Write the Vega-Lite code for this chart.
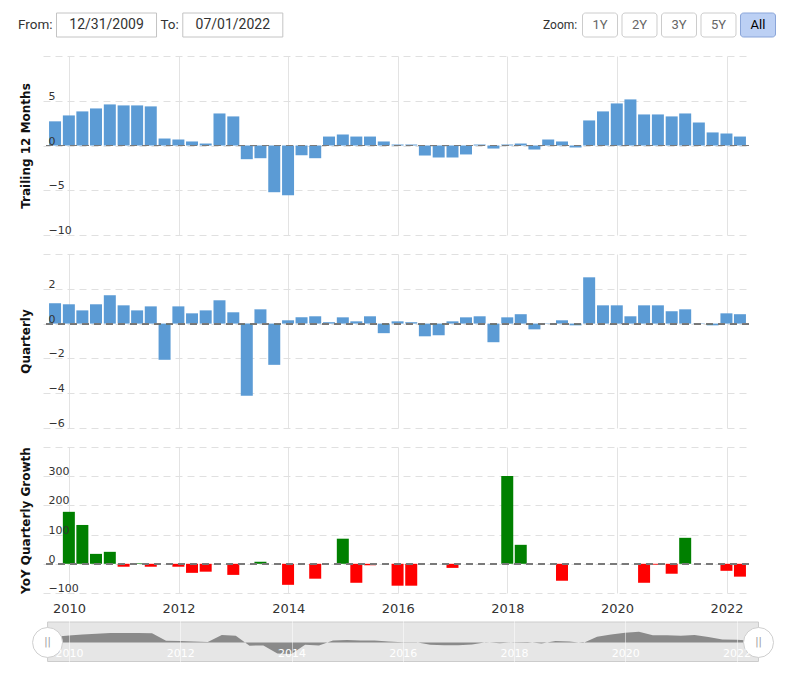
{
  "$schema": "https://vega.github.io/schema/vega-lite/v6.json",
  "usermeta": {"embedOptions": {"actions": false}},
  "background": "white",
  "padding": {"left": 17, "top": 12, "right": 10, "bottom": 4},
  "config": {
    "view": {"stroke": null},
    "font": "DejaVu Sans",
    "axis": {"labelFlush": false, "labelOverlap": false, "labelFont": "DejaVu Sans", "titleFont": "DejaVu Sans"}
  },
  "datasets": {
    "q": [
      {"date": "2009-09-30", "ttm": 2.7, "qtr": 1.17, "yoy": null},
      {"date": "2009-12-31", "ttm": 3.36, "qtr": 1.11, "yoy": 178},
      {"date": "2010-03-31", "ttm": 3.81, "qtr": 0.76, "yoy": 133},
      {"date": "2010-06-30", "ttm": 4.14, "qtr": 1.11, "yoy": 34},
      {"date": "2010-09-30", "ttm": 4.59, "qtr": 1.63, "yoy": 41},
      {"date": "2010-12-31", "ttm": 4.48, "qtr": 1.05, "yoy": -10},
      {"date": "2011-03-31", "ttm": 4.48, "qtr": 0.76, "yoy": 2},
      {"date": "2011-06-30", "ttm": 4.37, "qtr": 0.99, "yoy": -10},
      {"date": "2011-09-30", "ttm": 0.78, "qtr": -2.08, "yoy": null},
      {"date": "2011-12-31", "ttm": 0.67, "qtr": 0.99, "yoy": -10},
      {"date": "2012-03-31", "ttm": 0.45, "qtr": 0.59, "yoy": -31},
      {"date": "2012-06-30", "ttm": 0.22, "qtr": 0.76, "yoy": -27},
      {"date": "2012-09-30", "ttm": 3.58, "qtr": 1.34, "yoy": null},
      {"date": "2012-12-31", "ttm": 3.25, "qtr": 0.65, "yoy": -38},
      {"date": "2013-03-31", "ttm": -1.53, "qtr": -4.15, "yoy": null},
      {"date": "2013-06-30", "ttm": -1.42, "qtr": 0.82, "yoy": 7},
      {"date": "2013-09-30", "ttm": -5.22, "qtr": -2.37, "yoy": null},
      {"date": "2013-12-31", "ttm": -5.56, "qtr": 0.19, "yoy": -72},
      {"date": "2014-03-31", "ttm": -1.08, "qtr": 0.36, "yoy": null},
      {"date": "2014-06-30", "ttm": -1.42, "qtr": 0.42, "yoy": -51},
      {"date": "2014-09-30", "ttm": 1.0, "qtr": 0.08, "yoy": null},
      {"date": "2014-12-31", "ttm": 1.23, "qtr": 0.36, "yoy": 86},
      {"date": "2015-03-31", "ttm": 1.0, "qtr": 0.13, "yoy": -65},
      {"date": "2015-06-30", "ttm": 1.0, "qtr": 0.42, "yoy": -5},
      {"date": "2015-09-30", "ttm": 0.45, "qtr": -0.55, "yoy": null},
      {"date": "2015-12-31", "ttm": 0.11, "qtr": 0.13, "yoy": -75},
      {"date": "2016-03-31", "ttm": 0.11, "qtr": 0.08, "yoy": -75},
      {"date": "2016-06-30", "ttm": -1.12, "qtr": -0.73, "yoy": null},
      {"date": "2016-09-30", "ttm": -1.34, "qtr": -0.67, "yoy": null},
      {"date": "2016-12-31", "ttm": -1.34, "qtr": 0.13, "yoy": -14},
      {"date": "2017-03-31", "ttm": -1.0, "qtr": 0.36, "yoy": null},
      {"date": "2017-06-30", "ttm": 0.11, "qtr": 0.42, "yoy": null},
      {"date": "2017-09-30", "ttm": -0.34, "qtr": -1.07, "yoy": null},
      {"date": "2017-12-31", "ttm": 0.11, "qtr": 0.36, "yoy": 301},
      {"date": "2018-03-31", "ttm": 0.22, "qtr": 0.54, "yoy": 65},
      {"date": "2018-06-30", "ttm": -0.45, "qtr": -0.33, "yoy": null},
      {"date": "2018-09-30", "ttm": 0.67, "qtr": -0.02, "yoy": null},
      {"date": "2018-12-31", "ttm": 0.45, "qtr": 0.19, "yoy": -58},
      {"date": "2019-03-31", "ttm": -0.22, "qtr": -0.1, "yoy": null},
      {"date": "2019-06-30", "ttm": 2.8, "qtr": 2.66, "yoy": null},
      {"date": "2019-09-30", "ttm": 3.81, "qtr": 1.05, "yoy": null},
      {"date": "2019-12-31", "ttm": 4.7, "qtr": 1.05, "yoy": null},
      {"date": "2020-03-31", "ttm": 5.15, "qtr": 0.42, "yoy": null},
      {"date": "2020-06-30", "ttm": 3.47, "qtr": 1.05, "yoy": -65},
      {"date": "2020-09-30", "ttm": 3.47, "qtr": 1.05, "yoy": -3},
      {"date": "2020-12-31", "ttm": 3.25, "qtr": 0.71, "yoy": -34},
      {"date": "2021-03-31", "ttm": 3.58, "qtr": 0.82, "yoy": 89},
      {"date": "2021-06-30", "ttm": 2.57, "qtr": 0.02, "yoy": null},
      {"date": "2021-09-30", "ttm": 1.46, "qtr": -0.1, "yoy": null},
      {"date": "2021-12-31", "ttm": 1.34, "qtr": 0.59, "yoy": -24},
      {"date": "2022-03-31", "ttm": 1.0, "qtr": 0.54, "yoy": -44}
    ],
    "handles": [{"date": "2009-08-13"}, {"date": "2022-05-25"}],
    "inputs": [{"lbl": "From:", "val": "12/31/2009"}, {"lbl": "To:", "val": "07/01/2022"}],
    "buttons": [
      {"btn": "Zoom:", "kind": "label"},
      {"btn": "1Y", "kind": "button"},
      {"btn": "2Y", "kind": "button"},
      {"btn": "3Y", "kind": "button"},
      {"btn": "5Y", "kind": "button"},
      {"btn": "All", "kind": "selected"}
    ]
  },
  "bounds": "flush",
  "spacing": 19,
  "resolve": {"scale": {"x": "independent", "y": "independent", "color": "independent"}},
  "vconcat": [
    {
      "width": 728,
      "height": 24,
      "resolve": {"scale": {"x": "independent"}},
      "layer": [
        {
          "data": {"name": "inputs"},
          "encoding": {
            "x": {"field": "lbl", "type": "nominal", "sort": null,
              "scale": {"domain": ["From:", "To:", "~a", "~b", "~c"], "paddingInner": 0.208, "paddingOuter": 0.486, "align": 0.1099, "round": false}, "axis": null}
          },
          "layer": [
            {"mark": {"type": "rect", "fill": "white", "stroke": "#c4c4c4", "strokeWidth": 1}},
            {"mark": {"type": "text", "font": "Roboto", "fontSize": 14, "color": "#333333"}, "encoding": {"text": {"field": "val"}}},
            {"mark": {"type": "text", "font": "Roboto", "fontSize": 13.5, "color": "#333333", "align": "right", "dx": -54}, "encoding": {"text": {"field": "lbl"}}}
          ]
        },
        {
          "data": {"name": "buttons"},
          "encoding": {
            "x": {"field": "btn", "type": "nominal", "sort": null,
              "scale": {"domain": ["~1", "~2", "~3", "~4", "~5", "~6", "~7", "~8", "~9", "~10", "~11", "~12", "Zoom:", "1Y", "2Y", "3Y", "5Y", "All"], "paddingInner": 0.11392, "paddingOuter": 0.272, "align": 1, "round": false}, "axis": null}
          },
          "layer": [
            {
              "transform": [{"filter": "datum.kind != 'label'"}],
              "mark": {"type": "rect", "cornerRadius": 3, "strokeWidth": 1, "xOffset": 4.5, "x2Offset": 4.5},
              "encoding": {
                "fill": {"condition": {"test": "datum.kind == 'selected'", "value": "#bcd0f4"}, "value": "#ffffff"},
                "stroke": {"condition": {"test": "datum.kind == 'selected'", "value": "#8aa5d9"}, "value": "#cccccc"}
              }
            },
            {
              "transform": [{"filter": "datum.kind != 'label'"}],
              "mark": {"type": "text", "font": "Roboto", "fontSize": 13, "dx": 4.5},
              "encoding": {
                "text": {"field": "btn"},
                "color": {"condition": {"test": "datum.kind == 'selected'", "value": "#000000"}, "value": "#666666"}
              }
            },
            {
              "transform": [{"filter": "datum.kind == 'label'"}],
              "mark": {"type": "text", "font": "Roboto", "fontSize": 12, "color": "#333333", "align": "right", "dx": 21.2},
              "encoding": {"text": {"field": "btn"}}
            }
          ]
        }
      ]
    },
    {
      "data": {"name": "q"},
      "width": 706,
      "height": 179,
      "resolve": {"axis": {"y": "independent"}},
      "layer": [
        {
          "mark": {"type": "bar", "width": 12, "color": "#5b9bd5"},
          "encoding": {
            "x": {"field": "date", "type": "temporal",
              "scale": {"domain": [{"year": 2009, "month": 8, "date": 14}, {"year": 2022, "month": 4, "date": 27}]},
              "axis": {"values": [{"year": 2010, "month": 1, "date": 1}, {"year": 2012, "month": 1, "date": 1}, {"year": 2014, "month": 1, "date": 1}, {"year": 2016, "month": 1, "date": 1}, {"year": 2018, "month": 1, "date": 1}, {"year": 2020, "month": 1, "date": 1}, {"year": 2022, "month": 1, "date": 1}],
                "labels": false, "ticks": false, "domain": false, "grid": true, "gridColor": "#e3e3e3", "title": null}},
            "y": {"field": "ttm", "type": "quantitative",
              "scale": {"domain": [-10, 10], "nice": false, "zero": false},
              "axis": {"orient": "left", "values": [-10, -5, 0, 5, 10], "labels": false, "ticks": false, "tickSize": 0, "domain": false, "grid": true, "gridColor": "#e0e0e0", "gridDash": [7, 5],
                "title": "Trailing 12 Months", "titleFontSize": 12, "titleFontWeight": "bold", "titleColor": "#111111", "titleAngle": 270, "titleBaseline": "bottom", "titleX": -11, "titleY": 89.5}}
          }
        },
        {
          "mark": {"type": "rule", "stroke": "#7a7a7a", "strokeOpacity": 0.55, "strokeWidth": 1, "strokeDash": [7, 5]},
          "encoding": {
            "y": {"datum": 0, "type": "quantitative",
              "axis": {"orient": "left", "values": [-10, -5, 0, 5], "grid": false, "ticks": false, "tickSize": 0, "domain": false, "labelAlign": "left", "labelBaseline": "alphabetic", "labelPadding": -5, "labelOffset": -1.5, "labelFontSize": 11, "labelColor": "#333333", "title": null, "zindex": 1}}
          }
        }
      ]
    },
    {
      "data": {"name": "q"},
      "width": 706,
      "height": 174,
      "resolve": {"axis": {"y": "independent"}},
      "layer": [
        {
          "mark": {"type": "bar", "width": 12, "color": "#5b9bd5"},
          "encoding": {
            "x": {"field": "date", "type": "temporal",
              "scale": {"domain": [{"year": 2009, "month": 8, "date": 14}, {"year": 2022, "month": 4, "date": 27}]},
              "axis": {"values": [{"year": 2010, "month": 1, "date": 1}, {"year": 2012, "month": 1, "date": 1}, {"year": 2014, "month": 1, "date": 1}, {"year": 2016, "month": 1, "date": 1}, {"year": 2018, "month": 1, "date": 1}, {"year": 2020, "month": 1, "date": 1}, {"year": 2022, "month": 1, "date": 1}],
                "labels": false, "ticks": false, "domain": false, "grid": true, "gridColor": "#e3e3e3", "title": null}},
            "y": {"field": "qtr", "type": "quantitative",
              "scale": {"domain": [-6, 4], "nice": false, "zero": false},
              "axis": {"orient": "left", "values": [-6, -4, -2, 0, 2, 4], "labels": false, "ticks": false, "tickSize": 0, "domain": false, "grid": true, "gridColor": "#e0e0e0", "gridDash": [7, 5],
                "title": "Quarterly", "titleFontSize": 12, "titleFontWeight": "bold", "titleColor": "#111111", "titleAngle": 270, "titleBaseline": "bottom", "titleX": -11, "titleY": 87}}
          }
        },
        {
          "mark": {"type": "rule", "stroke": "#7a7a7a", "strokeOpacity": 0.55, "strokeWidth": 1, "strokeDash": [7, 5]},
          "encoding": {
            "y": {"datum": 0, "type": "quantitative",
              "axis": {"orient": "left", "values": [-6, -4, -2, 0, 2], "grid": false, "ticks": false, "tickSize": 0, "domain": false, "labelAlign": "left", "labelBaseline": "alphabetic", "labelPadding": -5, "labelOffset": -1.5, "labelFontSize": 11, "labelColor": "#333333", "title": null, "zindex": 1}}
          }
        }
      ]
    },
    {
      "data": {"name": "q"},
      "width": 706,
      "height": 146,
      "resolve": {"axis": {"y": "independent"}},
      "layer": [
        {
          "mark": {"type": "bar", "width": 12},
          "encoding": {
            "x": {"field": "date", "type": "temporal",
              "scale": {"domain": [{"year": 2009, "month": 8, "date": 14}, {"year": 2022, "month": 4, "date": 27}]},
              "axis": {"values": [{"year": 2010, "month": 1, "date": 1}, {"year": 2012, "month": 1, "date": 1}, {"year": 2014, "month": 1, "date": 1}, {"year": 2016, "month": 1, "date": 1}, {"year": 2018, "month": 1, "date": 1}, {"year": 2020, "month": 1, "date": 1}, {"year": 2022, "month": 1, "date": 1}],
                "format": "%Y", "labels": true, "labelFontSize": 13, "labelColor": "#333333", "labelPadding": 9, "ticks": false, "tickSize": 0, "domain": false, "grid": true, "gridColor": "#e3e3e3", "title": null}},
            "y": {"field": "yoy", "type": "quantitative",
              "scale": {"domain": [-100, 400], "nice": false, "zero": false},
              "axis": {"orient": "left", "values": [-100, 0, 100, 200, 300, 400], "labels": false, "ticks": false, "tickSize": 0, "domain": false, "grid": true, "gridColor": "#e0e0e0", "gridDash": [7, 5],
                "title": "YoY Quarterly Growth", "titleFontSize": 12, "titleFontWeight": "bold", "titleColor": "#111111", "titleAngle": 270, "titleBaseline": "bottom", "titleX": -11, "titleY": 73}},
            "color": {"condition": {"test": "datum.yoy >= 0", "value": "#008000"}, "value": "#ff0000"}
          }
        },
        {
          "mark": {"type": "rule", "stroke": "#7a7a7a", "strokeOpacity": 0.55, "strokeWidth": 1, "strokeDash": [7, 5]},
          "encoding": {
            "y": {"datum": 0, "type": "quantitative",
              "axis": {"orient": "left", "values": [-100, 0, 100, 200, 300], "grid": false, "ticks": false, "tickSize": 0, "domain": false, "labelAlign": "left", "labelBaseline": "alphabetic", "labelPadding": -5, "labelOffset": -1.5, "labelFontSize": 11, "labelColor": "#333333", "title": null, "zindex": 1}}
          }
        }
      ]
    },
    {
      "width": 715.5,
      "height": 49.5,
      "layer": [
        {
          "data": {"values": [{"band": "navigator"}]},
          "mark": {"type": "rect", "fill": "#e6e6e6", "stroke": "#cccccc", "strokeWidth": 1},
          "encoding": {
            "x": {"datum": {"year": 2009, "month": 8, "date": 13}, "type": "temporal",
              "scale": {"domain": [{"year": 2009, "month": 7, "date": 14}, {"year": 2022, "month": 5, "date": 25}]},
              "axis": {"values": [{"year": 2010, "month": 1, "date": 1}, {"year": 2012, "month": 1, "date": 1}, {"year": 2014, "month": 1, "date": 1}, {"year": 2016, "month": 1, "date": 1}, {"year": 2018, "month": 1, "date": 1}, {"year": 2020, "month": 1, "date": 1}, {"year": 2022, "month": 1, "date": 1}],
                "format": "%Y", "labelFontSize": 11, "labelColor": "#ffffff", "labelBaseline": "alphabetic", "labelPadding": -5, "ticks": false, "tickSize": 0, "domain": false, "grid": true, "gridColor": "#ffffff", "gridOpacity": 0.5, "title": null, "zindex": 1}},
            "x2": {"datum": {"year": 2022, "month": 5, "date": 25}},
            "y": {"datum": -9.1, "type": "quantitative", "scale": {"domain": [-9.1, 14.585], "nice": false, "zero": false}, "axis": null},
            "y2": {"datum": 9.8}
          }
        },
        {
          "data": {"name": "q"},
          "mark": {"type": "area", "color": "#8a8a8a", "opacity": 1},
          "encoding": {
            "x": {"field": "date", "type": "temporal"},
            "y": {"field": "ttm", "type": "quantitative"}
          }
        },
        {
          "data": {"name": "handles"},
          "mark": {"type": "point", "shape": "circle", "size": 900, "filled": true, "fill": "#ffffff", "stroke": "#cfcfcf", "strokeWidth": 1, "opacity": 1},
          "encoding": {
            "x": {"field": "date", "type": "temporal"},
            "y": {"datum": 0, "type": "quantitative"}
          }
        },
        {
          "data": {"name": "handles"},
          "mark": {"type": "text", "text": "||", "color": "#999999", "fontSize": 10},
          "encoding": {
            "x": {"field": "date", "type": "temporal"},
            "y": {"datum": 0, "type": "quantitative"}
          }
        }
      ]
    }
  ]
}
